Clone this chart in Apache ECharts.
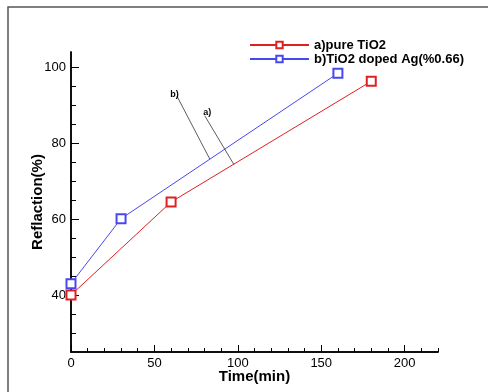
<!DOCTYPE html>
<html lang="en">
<head>
    <meta charset="UTF-8">
    <title>Reflaction vs Time</title>
    <script src="https://cdn.jsdelivr.net/npm/echarts@6/dist/echarts.min.js"></script>
    <style>
        html, body { margin: 0; padding: 0; background: #fff; }
        #main { width: 488px; height: 392px; }
    </style>
</head>
<body>
<div id="main"></div>
<script type="text/javascript">
    // data
    var pureTime = [0, 60, 180];
    var pureRefl = [40, 64.5, 96.3];
    var agTime = [0, 30, 160];
    var agRefl = [43, 60.1, 98.4];
    var xMajor = [0, 50, 100, 150, 200];
    var yMajor = [40, 60, 80, 100];
    var yMinor = [30, 35, 45, 50, 55, 65, 70, 75, 85, 90, 95];
    // leader lines of the a) / b) notes, in data units
    var noteB = [[63.5, 92.4], [83.2, 75.8]];
    var noteA = [[80.2, 87.2], [97.6, 74.4]];

    var font = 'Liberation Sans, Arial, sans-serif';
    var chart = echarts.init(document.getElementById('main'));

    function pairs(xs, ys) {
        return xs.map(function (x, i) { return [x, ys[i]]; });
    }

    function note(pts, text, off) {
        return [{
            coord: pts[0],
            label: { show: true, position: 'start', formatter: text, distance: 1, offset: off,
                fontSize: 9, fontWeight: 'bold', color: '#000', fontFamily: font }
        }, { coord: pts[1] }];
    }

    var titleStyle = { fontFamily: font, fontSize: 15, fontWeight: 'bold', color: '#000' };
    var tickFont = { fontFamily: font, fontSize: 13, color: '#000' };

    var yCommon = {
        type: 'value', min: 25, max: 104, position: 'left',
        axisLine: { show: true, lineStyle: { color: '#000', width: 1.5 } },
        splitLine: { show: false }
    };
    var xCommon = {
        type: 'value', min: 0, max: 220, position: 'bottom',
        axisLine: { show: true, lineStyle: { color: '#000', width: 1.5 } },
        splitLine: { show: false }
    };

    var option = {
        backgroundColor: '#fff',
        animation: false,
        graphic: [{
            type: 'rect',
            shape: { x: 8, y: 7, width: 520, height: 420 },
            style: { fill: 'none', stroke: '#555', lineWidth: 1.5 }
        }],
        grid: { left: 71, right: 50, top: 52, bottom: 40, outerBoundsMode: 'none' },
        legend: {
            left: 244, top: 33, orient: 'vertical',
            itemWidth: 59, itemHeight: 8, itemGap: 0,
            textStyle: { fontFamily: font, fontSize: 13, fontWeight: 'bold', color: '#000', lineHeight: 14 },
            data: ['a)pure TiO2', 'b)TiO2 doped Ag(%0.66)']
        },
        xAxis: [
            Object.assign({}, xCommon, {
                name: 'Time(min)', nameLocation: 'middle', nameGap: 17, nameMoveOverlap: false,
                nameTextStyle: titleStyle,
                axisTick: { inside: true, length: 7, customValues: xMajor, lineStyle: { color: '#000' } },
                axisLabel: Object.assign({ margin: 5, customValues: xMajor }, tickFont)
            }),
            Object.assign({}, xCommon, {
                interval: 10,
                axisTick: { inside: true, length: 4, lineStyle: { color: '#000' } },
                axisLabel: { show: false }
            })
        ],
        yAxis: [
            Object.assign({}, yCommon, {
                name: 'Reflaction(%)', nameLocation: 'middle', nameGap: 26, nameMoveOverlap: false,
                nameTextStyle: titleStyle,
                axisTick: { inside: true, length: 8, customValues: yMajor, lineStyle: { color: '#000' } },
                axisLabel: Object.assign({ margin: 5, customValues: yMajor }, tickFont)
            }),
            Object.assign({}, yCommon, {
                axisTick: { inside: true, length: 5, customValues: yMinor, lineStyle: { color: '#000' } },
                axisLabel: { show: false }
            })
        ],
        series: [
            {
                name: 'a)pure TiO2', type: 'line',
                data: pairs(pureTime, pureRefl),
                symbol: 'emptyRect', symbolSize: 9,
                lineStyle: { color: '#e02020', width: 1 },
                itemStyle: { color: '#e02020', borderWidth: 1 },
                markLine: {
                    silent: true, symbol: 'none',
                    lineStyle: { color: '#333', width: 0.8, type: 'solid' },
                    data: [note(noteA, 'a)', [3, 2])]
                }
            },
            {
                name: 'b)TiO2 doped Ag(%0.66)', type: 'line',
                data: pairs(agTime, agRefl),
                symbol: 'emptyRect', symbolSize: 9,
                lineStyle: { color: '#4848f0', width: 1 },
                itemStyle: { color: '#4848f0', borderWidth: 1 },
                markLine: {
                    silent: true, symbol: 'none',
                    lineStyle: { color: '#333', width: 0.8, type: 'solid' },
                    data: [note(noteB, 'b)', [-2, 4])]
                }
            }
        ]
    };

    chart.setOption(option);
</script>
</body>
</html>
